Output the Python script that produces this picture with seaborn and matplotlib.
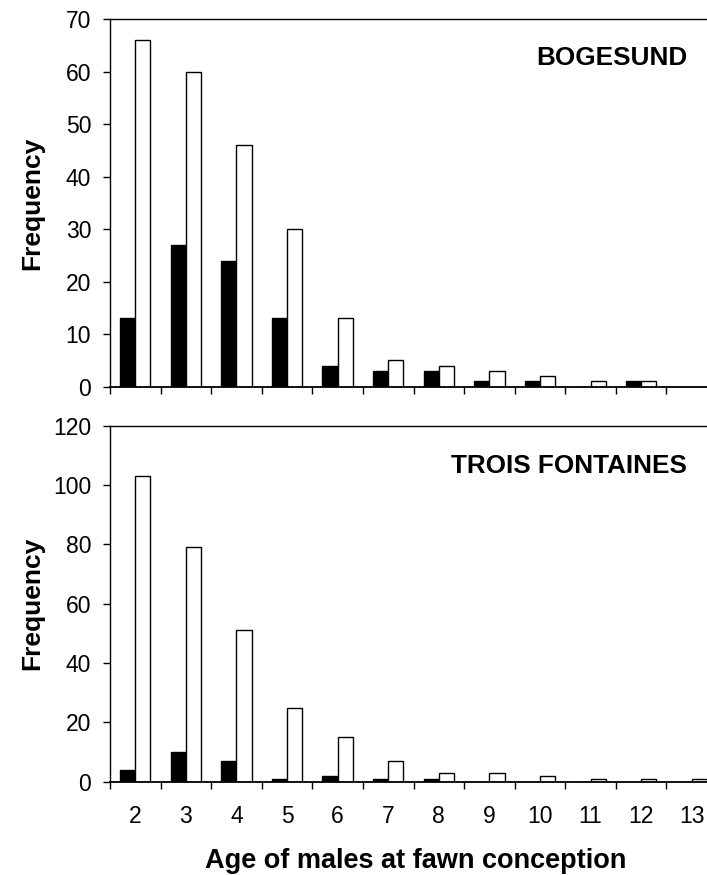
import matplotlib
matplotlib.use("Agg")
import matplotlib.pyplot as plt
import seaborn as sns
import pandas as pd
import numpy as np

# ---- data ----
ages = ["2", "3", "4", "5", "6", "7", "8", "9", "10", "11", "12", "13"]
bogesund_black = [13, 27, 24, 13, 4, 3, 3, 1, 1, 0, 1, 0]
bogesund_white = [66, 60, 46, 30, 13, 5, 4, 3, 2, 1, 1, 0]
trois_black = [4, 10, 7, 1, 2, 1, 1, 0, 0, 0, 0, 0]
trois_white = [103, 79, 51, 25, 15, 7, 3, 3, 2, 1, 1, 1]
series_names = ["Group 1", "Group 2"]
panel_titles = ["BOGESUND", "TROIS FONTAINES"]
y_limits = [70, 120]
y_steps = [10, 20]

sns.set_theme(style="ticks")
plt.rcParams["font.family"] = ["Liberation Sans", "DejaVu Sans"]

def long_df(black, white):
    return pd.DataFrame({
        "age": ages * 2,
        "freq": list(black) + list(white),
        "group": [series_names[0]] * len(ages) + [series_names[1]] * len(ages),
    })

fig = plt.figure(figsize=(7.07, 8.75), dpi=100)
W, H = 707.0, 875.0
left = 110 / W
width = 607 / W
ax1 = fig.add_axes([left, 1 - 386.7 / H, width, (386.7 - 19.3) / H])
ax2 = fig.add_axes([left, 1 - 781.7 / H, width, (781.7 - 425.7) / H])

datasets = [long_df(bogesund_black, bogesund_white), long_df(trois_black, trois_white)]
palette = {series_names[0]: "black", series_names[1]: "white"}
title_base = [(386.7 - 65) / 367.4, (781.7 - 473) / 356.0]

for i, (ax, df) in enumerate(zip([ax1, ax2], datasets)):
    sns.barplot(data=df, x="age", y="freq", hue="group", order=ages,
                hue_order=series_names, palette=palette, width=0.6, gap=0,
                edgecolor="black", linewidth=1.0, legend=False, ax=ax,
                errorbar=None, saturation=1)
    ax.set_xlim(-0.5, len(ages) - 0.5)
    ax.set_ylim(0, y_limits[i])
    ax.set_yticks(np.arange(0, y_limits[i] + 1, y_steps[i]))
    ax.set_xticks(range(len(ages)))
    ax.set_xticks(np.arange(-0.5, len(ages), 1.0), minor=True)
    ax.tick_params(axis="x", which="major", length=0, labelsize=16.5, pad=17,
                   colors="black")
    ax.tick_params(axis="x", which="minor", length=5, width=1.0, direction="out",
                   color="black", bottom=True)
    ax.tick_params(axis="y", length=5, width=1.0, direction="out", labelsize=16.5,
                   pad=8.5, colors="black")
    for s in ["left", "bottom", "top", "right"]:
        ax.spines[s].set_visible(True)
        ax.spines[s].set_color("black")
        ax.spines[s].set_linewidth(1.0)
    ax.spines["bottom"].set_linewidth(1.3)
    ax.set_ylabel("Frequency", fontsize=19, fontweight="bold", color="black")
    ax.yaxis.label.set_va("center")
    ax.yaxis.set_label_coords((32 - 110) / 607, 0.5)
    ax.text(0.9506, title_base[i], panel_titles[i], transform=ax.transAxes,
            ha="right", va="baseline", fontsize=18.8, fontweight="bold", color="black")

ax1.set_xticklabels([])
ax1.set_xlabel("")
ax2.set_xticklabels(ages)
ax2.set_xlabel("Age of males at fawn conception", fontsize=19.5, fontweight="bold",
               color="black")
ax2.xaxis.label.set_va("baseline")
ax2.xaxis.set_label_coords((415.5 - 110) / 607, (781.7 - 868) / 356.0)

fig.savefig("out.png", dpi=100, facecolor="white")
